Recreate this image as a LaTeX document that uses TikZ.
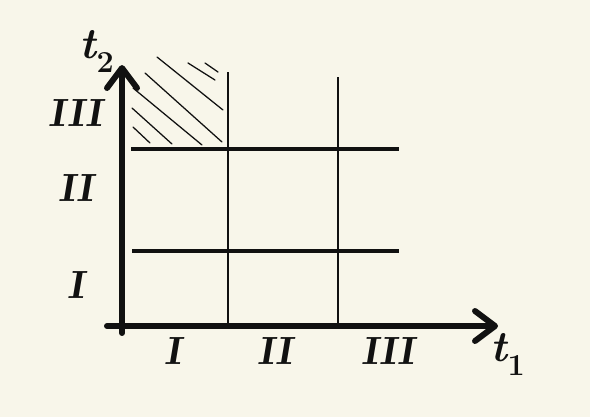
\documentclass[tikz,border=0pt]{standalone}
\usepackage{tikz}
\usetikzlibrary{arrows.meta}
\definecolor{paper}{RGB}{248,246,234}
\definecolor{ink}{RGB}{17,17,17}

\tikzset{
  axisline/.style={draw=ink,line width=8.5pt,line cap=round,-{Straight Barb[length=10mm,width=15mm,round]}},
  bandline/.style={draw=ink,line width=5.5pt},
  cutline/.style={draw=ink,line width=3.6pt},
  hatchline/.style={draw=ink,line width=1.8pt,line cap=round},
  zone/.style={font=\fontsize{56}{58}\selectfont\bfseries\slshape,text=ink,inner sep=0pt},
  axislabel/.style={font=\fontsize{62}{64}\selectfont\bfseries\itshape,text=ink,inner sep=0pt}
}
\newcommand{\tlab}[1]{t\textsubscript{\upshape#1}}

\begin{document}
\begin{tikzpicture}[x=0.05cm,y=-0.05cm]
\fill[paper] (0,0) rectangle (590,417);
\useasboundingbox (0,0) rectangle (590,417);
\coordinate (xstart) at (107,326);
\coordinate (xtip) at (498,326);
\coordinate (ystart) at (122,333);
\coordinate (ytip) at (122,65);
\coordinate (cutAtop) at (228,72);
\coordinate (cutAbot) at (228,326);
\coordinate (cutBtop) at (338,77);
\coordinate (cutBbot) at (338,326);
\coordinate (bandAl) at (131,149);
\coordinate (bandAr) at (399,149);
\coordinate (bandBl) at (132,251);
\coordinate (bandBr) at (399,251);
\foreach \xa/\ya/\xb/\yb in {133/127/150/143,132/108/172/144,133/88/202/145,145/73/222/142,157/57/223/110,188/63/215/80,205/63/218/72} {
    \draw[hatchline] (\xa,\ya) -- (\xb,\yb);
}
\draw[cutline] (cutAtop) -- (cutAbot);
\draw[cutline] (cutBtop) -- (cutBbot);
\draw[bandline] (bandAl) -- (bandAr);
\draw[bandline] (bandBl) -- (bandBr);
\draw[axisline] (xstart) -- (xtip);
\draw[axisline] (ystart) -- (ytip);
\node (tone) at (508,354) [axislabel] {\tlab{1}};
\node (ttwo) at (97,51) [axislabel] {\tlab{2}};
\foreach \name/\x/\txt in {hI/173/I,hII/275/II,hIII/388/III} {
    \node (\name) at (\x,351) [zone] {\txt};
}
\foreach \name/\y/\txt in {vIII/113/III,vII/188/II,vI/285/I} {
    \node (\name) at (76,\y) [zone] {\txt};
}
\end{tikzpicture}
\end{document}
